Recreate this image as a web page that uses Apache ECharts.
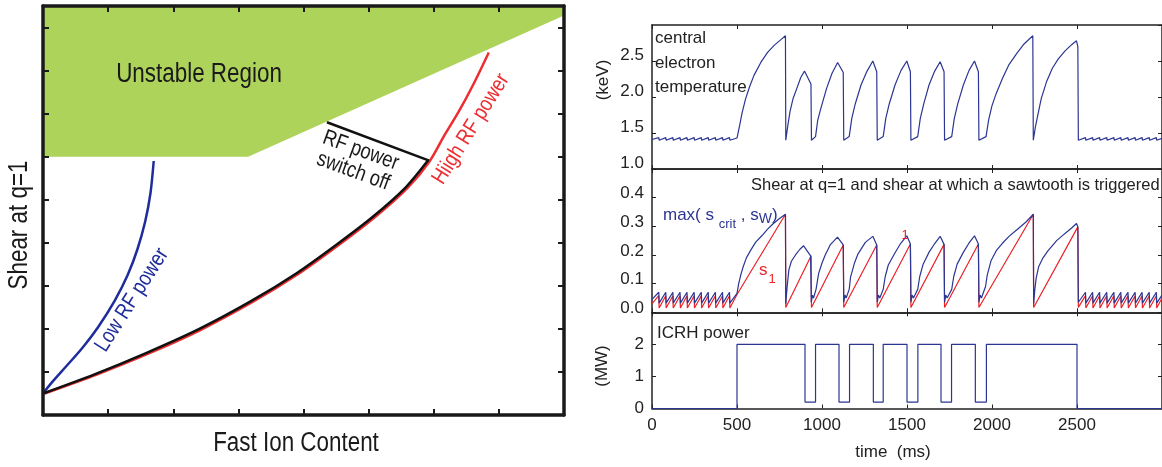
<!DOCTYPE html>
<html><head><meta charset="utf-8">
<script src="https://cdn.jsdelivr.net/npm/echarts@6/dist/echarts.min.js"></script>
<style>html,body{margin:0;padding:0;background:#fff}#c{width:1162px;height:467px}</style>
</head><body><div id="c"></div>
<script>
// ===== Left panel (arbitrary units: fast ion content vs shear at q=1) =====
const unstableEdgeX = [0, 3.15, 8];
const unstableEdgeY = [6.0, 6.0, 9.28];
const lowRFx = [0, 0.15, 0.35, 0.6, 0.85, 1.1, 1.3, 1.45, 1.57, 1.65, 1.70];
const lowRFy = [0.5, 0.78, 1.12, 1.55, 2.05, 2.65, 3.25, 3.85, 4.5, 5.15, 5.9];
const switchX = [0, 0.8, 1.6, 2.4, 3.2, 3.9, 4.5, 5.06, 5.57, 5.91];
const switchY = [0.5, 0.95, 1.45, 2.0, 2.65, 3.3, 3.95, 4.6, 5.29, 5.91];
const switchOffX = [5.93, 4.36];
const switchOffY = [5.91, 6.80];
const highRFx = [0, 0.8, 1.6, 2.4, 3.2, 3.9, 4.5, 5.06, 5.57, 5.91, 6.14, 6.36, 6.59, 6.82];
const highRFy = [0.5, 0.94, 1.43, 1.98, 2.63, 3.28, 3.93, 4.58, 5.27, 5.89, 6.5, 7.05, 7.7, 8.42];

// ===== Right panels: time (ms) =====
const tempKeV = [
 [0,1.41],[40,1.435],[42,1.40],[81,1.435],[83,1.40],[123,1.435],[125,1.40],[165,1.435],[167,1.40],
 [206,1.435],[208,1.40],[248,1.435],[250,1.40],[290,1.435],[292,1.40],[331,1.435],[333,1.40],
 [373,1.435],[375,1.40],[415,1.435],[417,1.40],[456,1.435],[458,1.40],[500,1.43],
 [515,1.6],[530,1.78],[550,1.97],[575,2.15],[600,2.3],[640,2.48],[680,2.62],[720,2.72],[760,2.8],[785,2.85],[787,1.40],
 [800,1.62],[812,1.80],[830,1.98],[852,2.12],[875,2.27],[897,2.36],[935,2.18],[938,1.40],[962,1.45],
 [975,1.68],[994,1.85],[1027,2.12],[1059,2.33],[1092,2.48],[1125,2.34],[1128,1.40],[1160,1.45],
 [1175,1.70],[1195,1.90],[1230,2.17],[1265,2.36],[1299,2.50],[1322,2.35],[1325,1.40],[1360,1.45],
 [1375,1.70],[1395,1.90],[1430,2.17],[1465,2.37],[1499,2.50],[1520,2.35],[1523,1.40],[1563,1.45],
 [1578,1.70],[1598,1.90],[1630,2.17],[1663,2.36],[1695,2.49],[1718,2.35],[1721,1.40],[1763,1.45],
 [1778,1.70],[1798,1.90],[1832,2.17],[1865,2.37],[1897,2.50],[1920,2.35],[1923,1.40],[1965,1.45],
 [1980,1.68],[2000,1.88],[2025,2.05],[2060,2.25],[2100,2.45],[2147,2.61],[2190,2.74],[2240,2.85],[2243,1.40],
 [2255,1.58],[2267,1.72],[2290,1.98],[2322,2.22],[2355,2.40],[2390,2.53],[2430,2.64],[2470,2.73],[2497,2.78],[2505,2.70],[2508,1.40],
 [2550,1.435],[2552,1.40],[2592,1.435],[2594,1.40],[2633,1.435],[2635,1.40],[2675,1.435],[2677,1.40],
 [2717,1.435],[2719,1.40],[2758,1.435],[2760,1.40],[2800,1.435],[2802,1.40],[2842,1.435],[2844,1.40],
 [2883,1.435],[2885,1.40],[2925,1.435],[2927,1.40],[2967,1.435],[2969,1.40],[3000,1.425]
];
const shearS1 = [
 [0,0.03],[40,0.058],[42,0.015],[81,0.058],[83,0.015],[123,0.058],[125,0.015],[165,0.058],[167,0.015],
 [206,0.058],[208,0.015],[248,0.058],[250,0.015],[290,0.058],[292,0.015],[331,0.058],[333,0.015],
 [373,0.058],[375,0.015],[415,0.058],[417,0.015],[456,0.058],[458,0.015],[500,0.062],
 [785,0.342],[787,0.017],[936,0.197],[938,0.017],[1125,0.235],[1128,0.017],[1322,0.235],[1325,0.017],
 [1520,0.238],[1523,0.017],[1718,0.237],[1721,0.017],[1920,0.238],[1923,0.017],[2243,0.342],[2245,0.017],
 [2505,0.298],[2508,0.017],
 [2550,0.058],[2552,0.015],[2592,0.058],[2594,0.015],[2633,0.058],[2635,0.015],[2675,0.058],[2677,0.015],
 [2717,0.058],[2719,0.015],[2758,0.058],[2760,0.015],[2800,0.058],[2802,0.015],[2842,0.058],[2844,0.015],
 [2883,0.058],[2885,0.015],[2925,0.058],[2927,0.015],[2967,0.058],[2969,0.015],[3000,0.05]
];
const shearTrigger = [
 [0,0.045],[40,0.07],[42,0.032],[81,0.07],[83,0.032],[123,0.07],[125,0.032],[165,0.07],[167,0.032],
 [206,0.07],[208,0.032],[248,0.07],[250,0.032],[290,0.07],[292,0.032],[331,0.07],[333,0.032],
 [373,0.07],[375,0.032],[415,0.07],[417,0.032],[456,0.07],[458,0.032],[500,0.066],
 [510,0.10],[522,0.13],[537,0.16],[555,0.19],[580,0.216],[610,0.245],[646,0.267],[680,0.29],[711,0.308],[750,0.327],[785,0.342],[787,0.03],
 [795,0.09],[805,0.148],[820,0.178],[844,0.20],[870,0.22],[892,0.232],[933,0.197],[937,0.035],
 [944,0.06],[950,0.05],[965,0.08],[980,0.135],[1000,0.172],[1019,0.2],[1048,0.235],[1091,0.262],[1125,0.235],[1128,0.035],
 [1135,0.06],[1142,0.05],[1160,0.08],[1168,0.123],[1190,0.17],[1212,0.204],[1255,0.244],[1299,0.265],[1322,0.235],[1325,0.035],
 [1332,0.06],[1340,0.05],[1360,0.08],[1372,0.125],[1390,0.165],[1429,0.207],[1462,0.24],[1499,0.267],[1520,0.238],[1523,0.035],
 [1530,0.06],[1538,0.05],[1563,0.08],[1575,0.125],[1595,0.168],[1630,0.21],[1663,0.24],[1695,0.265],[1718,0.237],[1721,0.035],
 [1728,0.06],[1736,0.05],[1763,0.08],[1775,0.125],[1795,0.168],[1832,0.21],[1865,0.242],[1897,0.267],[1920,0.238],[1923,0.035],
 [1930,0.06],[1938,0.05],[1962,0.09],[1972,0.13],[1995,0.181],[2025,0.215],[2060,0.24],[2100,0.265],[2150,0.29],[2200,0.315],[2243,0.342],[2245,0.03],
 [2252,0.08],[2260,0.12],[2275,0.16],[2300,0.19],[2330,0.215],[2354,0.232],[2380,0.25],[2409,0.265],[2440,0.28],[2470,0.295],[2497,0.31],[2505,0.298],[2508,0.035],
 [2550,0.07],[2552,0.032],[2592,0.07],[2594,0.032],[2633,0.07],[2635,0.032],[2675,0.07],[2677,0.032],
 [2717,0.07],[2719,0.032],[2758,0.07],[2760,0.032],[2800,0.07],[2802,0.032],[2842,0.07],[2844,0.032],
 [2883,0.07],[2885,0.032],[2925,0.07],[2927,0.032],[2967,0.07],[2969,0.032],[3000,0.06]
];
const icrhMW = [
 [0,0],[500,0],[500,2],[900,2],[900,0.2],[962,0.2],[962,2],[1100,2],[1100,0.2],[1162,0.2],[1162,2],
 [1302,2],[1302,0.2],[1360,0.2],[1360,2],[1500,2],[1500,0.2],[1564,0.2],[1564,2],[1700,2],[1700,0.2],
 [1762,0.2],[1762,2],[1902,2],[1902,0.2],[1967,0.2],[1967,2],[2500,2],[2500,0],[3000,0]
];

const zip = (xs, ys) => xs.map((x, i) => [x, ys[i]]);
const SANS = "'Liberation Sans', Arial, sans-serif";
const NAVY = '#2b3592', RED = '#ec2227';

function leftAxis(pos, isX) {
  return {
    gridIndex: 0, type: 'value', position: pos,
    min: 0, max: isX ? 8 : 9.5, interval: 1,
    axisLine: { show: true, onZero: false, lineStyle: { color: '#1a1a1a', width: 3.5 } },
    axisTick: { show: true, inside: true, length: 6, lineStyle: { color: '#1a1a1a', width: 2 } },
    axisLabel: { show: false }, splitLine: { show: false }, z: 5
  };
}
function rightX(grid, pos, labels) {
  return {
    gridIndex: grid, type: 'value', position: pos, min: 0, max: 3000, interval: 500,
    axisLine: { show: true, onZero: false, lineStyle: { color: '#222', width: 1.5 } },
    axisTick: { show: true, inside: true, length: 4, lineStyle: { color: '#222', width: 1 } },
    axisLabel: { show: labels, margin: 8, fontFamily: SANS, fontSize: 17, color: '#222', showMaxLabel: false,
      formatter: v => String(v) },
    splitLine: { show: false }
  };
}
function rightY(grid, pos, min, max, interval, labels, digits, lift) {
  const lbl = { show: labels, margin: 8, fontFamily: SANS, fontSize: 17, color: '#222',
      showMaxLabel: false, formatter: v => Number(v).toFixed(digits) };
  if (lift) { lbl.verticalAlign = 'bottom'; lbl.lineHeight = lift; }
  return {
    gridIndex: grid, type: 'value', position: pos, min: min, max: max, interval: interval,
    axisLine: { show: true, onZero: false, lineStyle: { color: '#222', width: 1.5 } },
    axisTick: { show: true, inside: true, length: 4, lineStyle: { color: '#222', width: 1 } },
    axisLabel: lbl, splitLine: { show: false }
  };
}

const chart = echarts.init(document.getElementById('c'), null, { renderer: 'canvas' });
const lineBase = { type: 'line', showSymbol: false, symbol: 'none', silent: true, animation: false };
const leftText = (txt, x, y, size, color, rotDeg, extra) => Object.assign({
  type: 'text', x: x, y: y, z: 100, rotation: rotDeg * Math.PI / 180, scaleX: 0.83,
  style: { text: txt, font: size + 'px ' + SANS, fill: color, align: 'center', verticalAlign: 'middle' }
}, extra || {});

chart.setOption({
  animation: false,
  backgroundColor: '#fff',
  grid: [
    { left: 43, top: 6, width: 521, height: 409 },
    { left: 652, top: 25, width: 514, height: 144 },
    { left: 652, top: 169, width: 514, height: 143.3 },
    { left: 652, top: 312.3, width: 514, height: 96.2 }
  ],
  xAxis: [
    leftAxis('bottom', true), leftAxis('top', true),
    rightX(1, 'bottom', false), rightX(1, 'top', false),
    rightX(2, 'bottom', false), rightX(2, 'top', false),
    rightX(3, 'bottom', true), rightX(3, 'top', false)
  ],
  yAxis: [
    leftAxis('left', false), leftAxis('right', false),
    rightY(1, 'left', 1, 3, 0.5, true, 1, 11), rightY(1, 'right', 1, 3, 0.5, false, 1, 0),
    rightY(2, 'left', 0, 0.5, 0.1, true, 1, 8), rightY(2, 'right', 0, 0.5, 0.1, false, 1, 0),
    rightY(3, 'left', 0, 3, 1, true, 0, 0), rightY(3, 'right', 0, 3, 1, false, 0, 0)
  ],
  series: [
    Object.assign({}, lineBase, { name: 'Unstable Region', xAxisIndex: 0, yAxisIndex: 0,
      data: zip(unstableEdgeX, unstableEdgeY), lineStyle: { width: 0 },
      areaStyle: { origin: 'end', color: '#aed35b', opacity: 1 }, z: 1 }),
    Object.assign({}, lineBase, { name: 'High RF power', xAxisIndex: 0, yAxisIndex: 0,
      data: zip(highRFx.map(v => v + 0.025), highRFy), smooth: 0.3,
      lineStyle: { color: '#ee2d30', width: 2.5 }, z: 3 }),
    Object.assign({}, lineBase, { name: 'RF switch-off path', xAxisIndex: 0, yAxisIndex: 0,
      data: zip(switchX, switchY), smooth: 0.3,
      lineStyle: { color: '#111', width: 2.5 }, z: 4 }),
    Object.assign({}, lineBase, { name: 'RF power switch off', xAxisIndex: 0, yAxisIndex: 0,
      data: zip(switchOffX, switchOffY),
      lineStyle: { color: '#111', width: 2.5 }, z: 4 }),
    Object.assign({}, lineBase, { name: 'Low RF power', xAxisIndex: 0, yAxisIndex: 0,
      data: zip(lowRFx, lowRFy), smooth: 0.3,
      lineStyle: { color: '#1f2c9c', width: 2.5 }, z: 3 }),

    Object.assign({}, lineBase, { name: 'Te', xAxisIndex: 2, yAxisIndex: 2, data: tempKeV,
      lineStyle: { color: NAVY, width: 1.2 } }),
    Object.assign({}, lineBase, { name: 's1', xAxisIndex: 4, yAxisIndex: 4, data: shearS1,
      lineStyle: { color: RED, width: 1.2 } }),
    Object.assign({}, lineBase, { name: 'max(scrit,sW)', xAxisIndex: 4, yAxisIndex: 4, data: shearTrigger,
      lineStyle: { color: NAVY, width: 1.2 } }),
    Object.assign({}, lineBase, { name: 'ICRH', xAxisIndex: 6, yAxisIndex: 6, data: icrhMW,
      lineStyle: { color: NAVY, width: 1.2 } })
  ],
  graphic: [
    leftText('Unstable Region', 199, 75, 27, '#1a1a1a', 0),
    leftText('Fast Ion Content', 296, 444, 27, '#1a1a1a', 0),
    leftText('Shear at q=1', 20, 225, 27, '#1a1a1a', 90),
    leftText('Low RF power', 132, 300, 22, '#1f2c9c', 57.6),
    leftText('Hiigh RF power', 471, 129, 22, '#ee2d30', 58),
    leftText('RF power\nswitch off', 357, 161, 22, '#1a1a1a', -20),

    { type: 'text', z: 100, x: 655, y: 63, style: { text: 'central\nelectron\ntemperature', font: '17px ' + SANS, lineHeight: 24.5, fill: '#222', align: 'left', verticalAlign: 'middle' } },
    { type: 'text', z: 100, x: 603, y: 80, rotation: Math.PI / 2, style: { text: '(keV)', font: '17px ' + SANS, fill: '#222', align: 'center', verticalAlign: 'middle' } },
    { type: 'text', z: 100, x: 751, y: 185, style: { text: 'Shear at q=1 and shear at which a sawtooth is triggered', font: '16.5px ' + SANS, fill: '#222', align: 'left', verticalAlign: 'middle' } },
    { type: 'text', z: 100, x: 663, y: 215, style: { text: '{a|max( s }{c|crit}{a| , s}{w|W}{a|)}', align: 'left', verticalAlign: 'middle',
      rich: { a: { font: '17px ' + SANS, fill: NAVY }, c: { font: '13px ' + SANS, fill: NAVY, padding: [18, 0, 0, 0] }, w: { font: '14px ' + SANS, fill: NAVY, padding: [9, 0, 0, 0] } } } },
    { type: 'text', z: 100, x: 759, y: 270, style: { text: '{a|s}{b|1}', align: 'left', verticalAlign: 'middle',
      rich: { a: { font: '17px ' + SANS, fill: RED }, b: { font: '13px ' + SANS, fill: RED, padding: [18, 0, 0, 1] } } } },
    { type: 'text', z: 100, x: 905, y: 235, style: { text: '1', font: '13px ' + SANS, fill: RED, align: 'center', verticalAlign: 'middle' } },
    { type: 'text', z: 100, x: 657, y: 333, style: { text: 'ICRH power', font: '17px ' + SANS, fill: '#222', align: 'left', verticalAlign: 'middle' } },
    { type: 'text', z: 100, x: 602, y: 366, rotation: Math.PI / 2, style: { text: '(MW)', font: '17px ' + SANS, fill: '#222', align: 'center', verticalAlign: 'middle' } },
    { type: 'text', z: 100, x: 893, y: 452, style: { text: 'time  (ms)', font: '17px ' + SANS, fill: '#222', align: 'center', verticalAlign: 'middle' } }
  ]
});
</script></body></html>
